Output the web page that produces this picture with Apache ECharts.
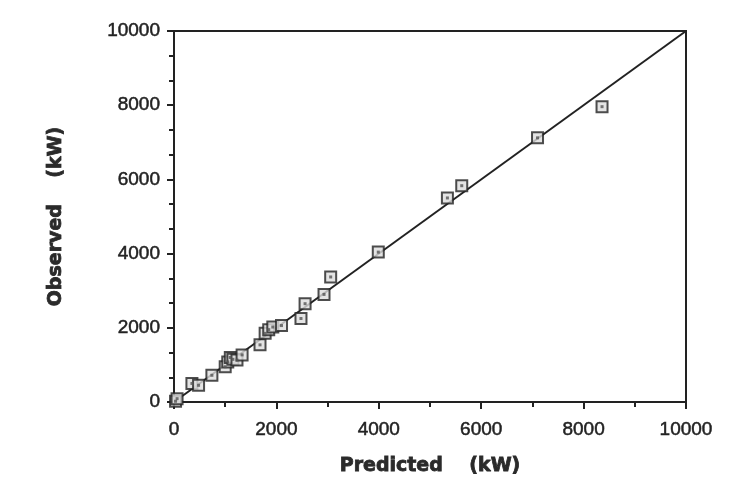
<!DOCTYPE html>
<html>
<head>
<meta charset="utf-8">
<script src="https://cdn.jsdelivr.net/npm/echarts@6/dist/echarts.min.js"></script>
<style>html,body{margin:0;padding:0;background:#fff;}#c{width:754px;height:504px;}</style>
</head>
<body>
<div id="c"></div>
<script>
const predicted = [30, 60, 350, 480, 740, 1000, 1050, 1100, 1150, 1230, 1330, 1680, 1780, 1850, 1930, 2100, 2480, 2560, 2930, 3060, 3990, 5340, 5620, 7100, 8360];
const observed  = [20, 90, 500, 450, 720, 950, 1080, 1200, 1150, 1130, 1270, 1540, 1850, 1950, 2020, 2060, 2250, 2650, 2900, 3370, 4040, 5500, 5830, 7120, 7960];
const lineX = [0, 10000];
const lineY = [0, 10000];
const xTitle = 'Predicted    (kW)';
const yTitle = 'Observed    (kW)';

const pts = predicted.map((p, i) => [p, observed[i]]);
const chart = echarts.init(document.getElementById('c'), null, {renderer: 'canvas'});
const axisCommon = {
  min: 0, max: 10000, interval: 2000,
  axisLine: {show: true, lineStyle: {color: '#222', width: 2}},
  axisTick: {show: true, inside: false, length: 7, lineStyle: {color: '#222', width: 2}},
  minorTick: {show: true, length: 5, lineStyle: {color: '#222', width: 2}},
  splitLine: {show: false},
  axisLabel: {color: '#222', fontSize: 19, fontFamily: 'Liberation Sans', margin: 14,
    textBorderColor: '#222', textBorderWidth: 0.5,
    formatter: v => String(v)},
  nameLocation: 'middle',
  nameTextStyle: {color: '#2a2a2a', fontSize: 19, fontWeight: 'bold', fontFamily: 'DejaVu Sans',
    textBorderColor: '#2a2a2a', textBorderWidth: 0.8}
};
chart.setOption({
  backgroundColor: '#fff',
  animation: false,
  grid: {left: 174, right: 68, top: 31, bottom: 102, show: true, borderColor: '#222', borderWidth: 2, containLabel: false},
  xAxis: Object.assign({}, axisCommon, {
    type: 'value', name: xTitle, nameGap: 55,
    axisLabel: Object.assign({}, axisCommon.axisLabel, {margin: 18}),
    minorTick: Object.assign({}, axisCommon.minorTick, {splitNumber: 2})
  }),
  yAxis: Object.assign({}, axisCommon, {
    type: 'value', name: yTitle, nameGap: 108,
    minorTick: Object.assign({}, axisCommon.minorTick, {splitNumber: 3})
  }),
  series: [
    {
      type: 'line', data: lineX.map((x, i) => [x, lineY[i]]), symbol: 'none',
      lineStyle: {color: '#222', width: 2}, z: 1
    },
    {
      type: 'scatter', data: pts, symbol: 'rect', symbolSize: 11,
      itemStyle: {color: '#ddd', borderColor: '#222', borderWidth: 2}, z: 2
    },
    {
      type: 'scatter', data: pts, symbol: 'rect', symbolSize: 3,
      itemStyle: {color: '#555'}, z: 3, silent: true
    }
  ]
});
</script>
</body>
</html>
